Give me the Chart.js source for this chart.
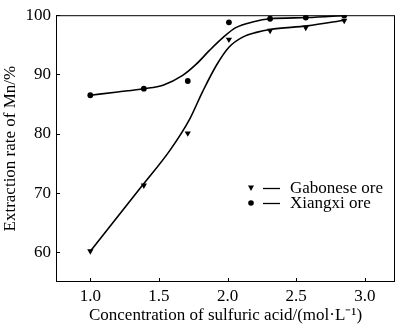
<!DOCTYPE html>
<html>
<head>
<meta charset="utf-8">
<script src="https://cdn.jsdelivr.net/npm/chart.js@4/dist/chart.umd.min.js"></script>
<style>
  html, body { margin: 0; padding: 0; background: #fff; }
  #wrap { width: 400px; height: 327px; }
</style>
</head>
<body>
<div id="wrap"><canvas id="grafico"></canvas></div>
<script>
// measured points
const concentrations = [1.0, 1.39, 1.71, 2.01, 2.31, 2.57, 2.85];
const gabonese = [60.2, 71.3, 80.1, 95.9, 97.4, 97.9, 99.1];
const xiangxi = [86.5, 87.6, 88.9, 98.8, 99.4, 99.6, 99.95];

// fitted curves
const gaboneseCurveX = [1.0, 1.38, 1.58, 1.72, 1.82, 1.92, 2.01, 2.11, 2.21, 2.31, 2.58, 2.86];
const gaboneseCurveY = [60.2, 71.3, 77.2, 82.3, 87.2, 91.6, 94.6, 96.3, 97.1, 97.6, 98.2, 99.2];
const xiangxiCurveX = [1.0, 1.2, 1.39, 1.53, 1.67, 1.77, 1.87, 1.97, 2.06, 2.19, 2.31, 2.58, 2.86];
const xiangxiCurveY = [86.5, 87.05, 87.6, 88.2, 89.8, 91.7, 94.1, 96.3, 97.9, 98.9, 99.4, 99.6, 99.95];

const xTicks = [1.0, 1.5, 2.0, 2.5, 3.0];
const yTicks = [60, 70, 80, 90, 100];
const seriesNames = ['Gabonese ore', 'Xiangxi ore'];

const fontFamily = '"Liberation Serif", "Times New Roman", serif';

function pairs(xs, ys) {
    return xs.map((x, i) => ({ x: x, y: ys[i] }));
}

// box frame + inward tick marks
const framePlugin = {
    id: 'frame',
    afterDatasetsDraw(chart) {
        const { ctx, chartArea: a, scales } = chart;
        ctx.save();
        ctx.strokeStyle = '#000';
        ctx.lineWidth = 1;
        ctx.strokeRect(a.left + 0.5, a.top + 0.5, a.right - a.left - 1, a.bottom - a.top - 1);
        ctx.beginPath();
        xTicks.forEach(v => {
            const px = Math.round(scales.x.getPixelForValue(v)) + 0.5;
            ctx.moveTo(px, a.bottom);
            ctx.lineTo(px, a.bottom - 4);
        });
        yTicks.forEach(v => {
            const py = Math.round(scales.y.getPixelForValue(v)) + 0.5;
            ctx.moveTo(a.left, py);
            ctx.lineTo(a.left + 4, py);
        });
        ctx.stroke();
        ctx.restore();
    }
};

const legendPlugin = {
    id: 'innerLegend',
    afterDraw(chart) {
        const ctx = chart.ctx;
        const rows = [
            { y: 188, style: 'triangle' },
            { y: 203, style: 'circle' }
        ];
        ctx.save();
        ctx.fillStyle = '#000';
        ctx.strokeStyle = '#000';
        ctx.lineWidth = 1.3;
        ctx.font = '17px ' + fontFamily;
        ctx.textBaseline = 'middle';
        rows.forEach((r, i) => {
            const mx = 251;
            ctx.beginPath();
            if (r.style === 'triangle') {
                ctx.moveTo(mx - 3, r.y - 2.5);
                ctx.lineTo(mx + 3, r.y - 2.5);
                ctx.lineTo(mx, r.y + 3);
                ctx.closePath();
            } else {
                ctx.arc(mx, r.y, 2.8, 0, Math.PI * 2);
            }
            ctx.fill();
            ctx.beginPath();
            ctx.moveTo(263, r.y + 0.5);
            ctx.lineTo(280, r.y + 0.5);
            ctx.stroke();
            ctx.fillText(seriesNames[i], 290, r.y + 1);
        });
        ctx.restore();
    }
};

function renderGrafico() {
    const ctx = document.getElementById('grafico');

    new Chart(ctx, {
        type: 'line',
        data: {
            datasets: [
                {
                    label: seriesNames[0],
                    data: pairs(concentrations, gabonese),
                    showLine: false,
                    pointStyle: 'triangle',
                    rotation: 180,
                    pointRadius: 3.6,
                    backgroundColor: '#000',
                    borderColor: '#000',
                    borderWidth: 0,
                    order: 0
                },
                {
                    label: seriesNames[1],
                    data: pairs(concentrations, xiangxi),
                    showLine: false,
                    pointStyle: 'circle',
                    pointRadius: 2.9,
                    backgroundColor: '#000',
                    borderColor: '#000',
                    borderWidth: 0,
                    order: 0
                },
                {
                    data: pairs(gaboneseCurveX, gaboneseCurveY),
                    borderColor: '#000',
                    borderWidth: 1.6,
                    pointRadius: 0,
                    cubicInterpolationMode: 'monotone',
                    order: 1
                },
                {
                    data: pairs(xiangxiCurveX, xiangxiCurveY),
                    borderColor: '#000',
                    borderWidth: 1.6,
                    pointRadius: 0,
                    cubicInterpolationMode: 'monotone',
                    order: 1
                }
            ]
        },
        options: {
            responsive: true,
            maintainAspectRatio: false,
            animation: false,
            layout: { padding: { top: 6, right: 5, left: 0, bottom: 0 } },
            plugins: {
                legend: { display: false },
                tooltip: { enabled: false }
            },
            scales: {
                x: {
                    type: 'linear',
                    min: 0.75,
                    max: 3.22,
                    afterBuildTicks: s => { s.ticks = xTicks.map(v => ({ value: v })); },
                    afterFit: s => { s.height = 45; },
                    grid: { display: false, drawTicks: false },
                    border: { display: false },
                    ticks: {
                        color: '#000',
                        padding: 4,
                        maxRotation: 0,
                        font: { family: fontFamily, size: 17 },
                        callback: v => v.toFixed(1)
                    },
                    title: {
                        display: true,
                        text: 'Concentration of sulfuric acid/(mol\u00b7L\u207b\u00b9)',
                        color: '#000',
                        padding: { top: 0, bottom: 1 },
                        font: { family: fontFamily, size: 17 }
                    }
                },
                y: {
                    min: 55,
                    max: 100,
                    afterBuildTicks: s => { s.ticks = yTicks.map(v => ({ value: v })); },
                    afterFit: s => { s.width = 56; },
                    grid: { display: false, drawTicks: false },
                    border: { display: false },
                    ticks: {
                        color: '#000',
                        padding: 5,
                        font: { family: fontFamily, size: 17 }
                    },
                    title: {
                        display: true,
                        text: 'Extraction rate of Mn/%',
                        color: '#000',
                        padding: 0,
                        font: { family: fontFamily, size: 17 }
                    }
                }
            }
        },
        plugins: [framePlugin, legendPlugin]
    });
}

document.addEventListener('DOMContentLoaded', renderGrafico);
</script>
</body>
</html>
